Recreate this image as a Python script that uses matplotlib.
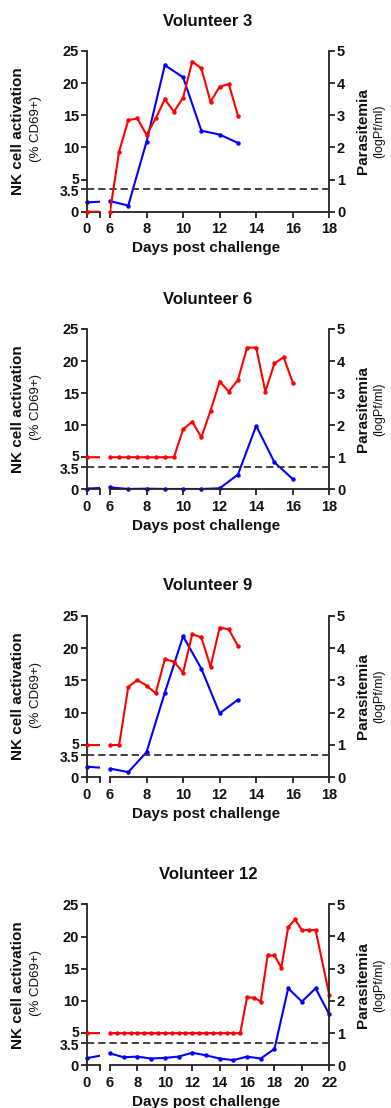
import matplotlib
matplotlib.use('Agg')
import matplotlib.pyplot as plt
import matplotlib.transforms as mtransforms

plt.rcParams['font.family'] = ['Liberation Sans', 'DejaVu Sans']

W, H = 391, 1108

titles = ['Volunteer 3', 'Volunteer 6', 'Volunteer 9', 'Volunteer 12']

# NK cell activation (% CD69+), blue, left axis
v3_nk_days = [0, 6, 7, 8, 9, 10, 11, 12, 13]
v3_nk = [1.45, 1.65, 0.95, 10.9, 22.8, 20.9, 12.6, 12.0, 10.7]
# Parasitemia (logPf/ml), red, right axis
v3_par_days = [0, 6, 6.5, 7, 7.5, 8, 8.5, 9, 9.5, 10, 10.5, 11, 11.5, 12, 12.5, 13]
v3_par = [0, 0, 1.87, 2.85, 2.9, 2.39, 2.9, 3.5, 3.11, 3.55, 4.67, 4.46, 3.42, 3.89, 3.97, 2.99]

v6_nk_days = [0, 6, 7, 8, 9, 10, 11, 12, 13, 14, 15, 16]
v6_nk = [0.1, 0.3, 0.05, 0.1, 0.05, 0.05, 0.05, 0.15, 2.3, 9.9, 4.2, 1.6]
v6_par_days = [0, 6, 6.5, 7, 7.5, 8, 8.5, 9, 9.5, 10, 10.5, 11, 11.5, 12, 12.5,
               13, 13.5, 14, 14.5, 15, 15.5, 16]
v6_par = [1, 1, 1, 1, 1, 1, 1, 1, 1, 1.87, 2.11, 1.62, 2.45, 3.36, 3.05,
          3.41, 4.42, 4.42, 3.05, 3.93, 4.12, 3.33]

v9_nk_days = [0, 6, 7, 8, 9, 10, 11, 12, 13]
v9_nk = [1.65, 1.35, 0.8, 3.9, 13.1, 21.8, 16.8, 9.9, 12.0]
v9_par_days = [0, 6, 6.5, 7, 7.5, 8, 8.5, 9, 9.5, 10, 10.5, 11, 11.5, 12, 12.5, 13]
v9_par = [1.0, 1.0, 1.0, 2.8, 3.01, 2.84, 2.6, 3.65, 3.58, 3.24, 4.43, 4.33, 3.42, 4.63, 4.58, 4.06]

v12_nk_days = [0, 6, 7, 8, 9, 10, 11, 12, 13, 14, 15, 16, 17, 18, 19, 20, 21, 22]
v12_nk = [1.1, 1.85, 1.25, 1.35, 1.05, 1.15, 1.35, 1.95, 1.55, 1.05, 0.8, 1.35,
          1.05, 2.55, 11.95, 9.9, 11.95, 7.9]
v12_par_days = [0, 6, 6.5, 7, 7.5, 8, 8.5, 9, 9.5, 10, 10.5, 11, 11.5, 12, 12.5,
                13, 13.5, 14, 14.5, 15, 15.5, 16, 16.5, 17, 17.5, 18, 18.5, 19,
                19.5, 20, 20.5, 21, 22]
v12_par = [1, 1, 1, 1, 1, 1, 1, 1, 1, 1, 1, 1, 1, 1, 1, 1, 1, 1, 1, 1, 1,
           2.11, 2.10, 1.98, 3.41, 3.41, 3.03, 4.29, 4.53, 4.2, 4.2, 4.2, 2.18]

nk_days = [v3_nk_days, v6_nk_days, v9_nk_days, v12_nk_days]
nk_vals = [v3_nk, v6_nk, v9_nk, v12_nk]
par_days = [v3_par_days, v6_par_days, v9_par_days, v12_par_days]
par_vals = [v3_par, v6_par, v9_par, v12_par]
x_max = [18, 18, 18, 22]

nk_ticks = [0, 3.5, 5, 10, 15, 20, 25]
nk_ticklabels = ['0', '3.5', '5', '10', '15', '20', '25']
par_ticks = [0, 1, 2, 3, 4, 5]
threshold = 3.5

RED = '#ff0000'
BLUE = '#0000ff'
AXC = '#222222'

fig = plt.figure(figsize=(W / 100, H / 100), dpi=100)


def fx(px):
    return px / W


def fy(py):
    return 1 - py / H


x0, xb, x6, xr = 86.7, 99.5, 110.0, 329.3
tops = [51, 329, 615.7, 904.3]
bottoms = [211.7, 489.3, 777.3, 1065.3]
LEFT_END = 3

tick_fs = 10.5
lab_fs = 11


def clip_box(left_px, right_px, top_px, bottom_px, pad=4):
    bb = mtransforms.Bbox.from_extents(fx(left_px - pad), fy(bottom_px + pad),
                                       fx(right_px + pad), fy(top_px - pad))
    return mtransforms.TransformedBbox(bb, fig.transFigure)


def draw_series(ax, days, vals, color, box):
    ax.plot(days, vals, '-', color=color, lw=1.5, solid_joinstyle='miter')
    pts, = ax.plot(days, vals, 'o', color=color, ms=3.2, mew=0)
    pts.set_clip_box(box)


for i in range(4):
    top, bot = tops[i], bottoms[i]
    h = (bot - top) / H
    axL = fig.add_axes([fx(x0), fy(bot), (xb - x0) / W, h])
    axR = fig.add_axes([fx(x6), fy(bot), (xr - x6) / W, h])
    axL2 = axL.twinx()
    axR2 = axR.twinx()

    for a in (axL, axR):
        a.set_ylim(0, 25)
        a.patch.set_alpha(0)
    for a in (axL2, axR2):
        a.set_ylim(0, 5)
    axL.set_xlim(0, LEFT_END)
    axL2.set_xlim(0, LEFT_END)
    axR.set_xlim(6, x_max[i])
    axR2.set_xlim(6, x_max[i])

    # spines
    for a in (axL, axR, axL2, axR2):
        for s in a.spines.values():
            s.set_visible(False)
            s.set_color(AXC)
            s.set_linewidth(1.3)
    axL.spines['left'].set_visible(True)
    axL.spines['bottom'].set_visible(True)
    axR.spines['bottom'].set_visible(True)
    axR2.spines['right'].set_visible(True)

    # ticks
    axL.set_yticks(nk_ticks)
    axL.set_yticklabels(nk_ticklabels)
    axL.set_xticks([0, LEFT_END])
    axL.set_xticklabels(['0', ''])
    axR.set_xticks(list(range(6, x_max[i] + 1, 2)))
    axR.set_yticks([])
    axL2.set_yticks([])
    axR2.set_yticks(par_ticks)
    axR2.tick_params(axis='x', bottom=False, labelbottom=False)
    axL2.tick_params(axis='x', bottom=False, labelbottom=False)
    for a in (axL, axR, axR2):
        a.tick_params(direction='out', length=4, width=1.3, color=AXC,
                      labelsize=tick_fs, pad=1.5)
        a.tick_params(axis='x', pad=3.5)
        for lab in a.get_xticklabels() + a.get_yticklabels():
            lab.set_fontweight('bold')
            lab.set_color('#111111')

    # the crowded "5" / "3.5" labels, nudged apart as in the reference
    ylabs = axL.get_yticklabels()
    nudge = {'5': 1.5, '3.5': -1.5}
    for lab in ylabs:
        d = nudge.get(lab.get_text())
        if d is not None:
            lab.set_transform(lab.get_transform() +
                              mtransforms.ScaledTranslation(0, d / 100, fig.dpi_scale_trans))
            lab.set_fontsize(10)

    # data
    boxL = clip_box(x0, xb, top, bot)
    boxR = clip_box(x6, xr, top, bot)
    draw_series(axL, nk_days[i], nk_vals[i], BLUE, boxL)
    draw_series(axR, nk_days[i], nk_vals[i], BLUE, boxR)
    draw_series(axL2, par_days[i], par_vals[i], RED, boxL)
    draw_series(axR2, par_days[i], par_vals[i], RED, boxR)

    # threshold dashed line across the whole width
    blend = mtransforms.blended_transform_factory(fig.transFigure, axR.transData)
    axR.plot([fx(x0), fx(xr)], [threshold, threshold], transform=blend,
             clip_on=False, color='#333333', lw=1.3, dashes=(4, 2.2))

    # texts
    fig.text(fx(208), fy(top - 30), titles[i], ha='center', va='center',
             fontsize=12, fontweight='bold', color='#111111')
    fig.text(fx(206), fy(bot + 36.5), 'Days post challenge', ha='center',
             va='center', fontsize=lab_fs, fontweight='bold', color='#111111')
    cy = (top + bot) / 2
    fig.text(fx(18.5), fy(cy), 'NK cell activation', rotation=90, ha='center',
             va='center', fontsize=lab_fs, fontweight='bold', color='#111111')
    fig.text(fx(36), fy(cy - 2), '(% CD69+)', rotation=90, ha='center',
             va='center', fontsize=9.5, color='#111111')
    fig.text(fx(363), fy(cy), 'Parasitemia', rotation=90, ha='center',
             va='center', fontsize=lab_fs, fontweight='bold', color='#111111')
    fig.text(fx(379), fy(cy), '(logPf/ml)', rotation=90, ha='center',
             va='center', fontsize=9, color='#111111')

fig.savefig('out.png', dpi=100)
